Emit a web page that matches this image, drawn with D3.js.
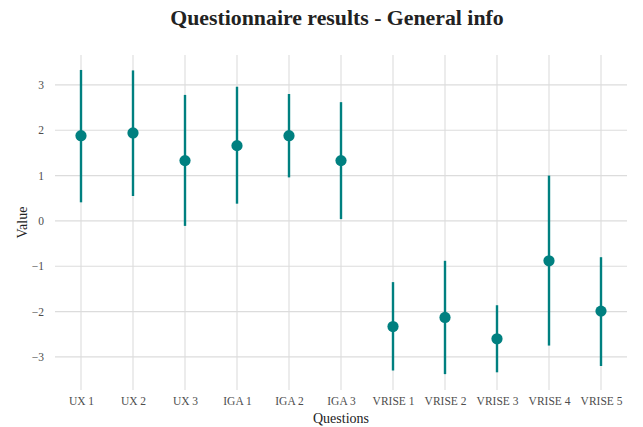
<!DOCTYPE html>
<html>
<head>
<meta charset="utf-8">
<script src="https://cdn.jsdelivr.net/npm/d3@7"></script>
<style>
  body { margin: 0; background: #fff; }
  svg { display: block; }
</style>
</head>
<body>
<svg id="chart" width="643" height="427"></svg>
<script>
const categories = ["UX 1","UX 2","UX 3","IGA 1","IGA 2","IGA 3","VRISE 1","VRISE 2","VRISE 3","VRISE 4","VRISE 5"];
const means = [1.88, 1.94, 1.33, 1.66, 1.88, 1.33, -2.33, -2.13, -2.60, -0.88, -1.99];
const lows  = [0.41, 0.55, -0.11, 0.38, 0.96, 0.04, -3.30, -3.38, -3.34, -2.75, -3.20];
const highs = [3.33, 3.32, 2.78, 2.96, 2.80, 2.62, -1.35, -0.88, -1.86, 1.00, -0.80];
const yTicks = [-3, -2, -1, 0, 1, 2, 3];

(function () {
const data = categories.map((c, i) => ({ c, m: means[i], lo: lows[i], hi: highs[i] }));

const svg = d3.select("#chart");
const pLeft = 55, pRight = 627, pTop = 55, pBottom = 390;
const serif = "'Liberation Serif', 'Times New Roman', serif";

const x = d3.scalePoint().domain(categories).range([pLeft, pRight]).padding(0.5);
const y = d3.scaleLinear().domain([-3.73, 3.66]).range([pBottom, pTop]);

const teal = "#008080";
const gridColor = "#dcdcdc";

// gridlines
svg.append("g").selectAll("line").data(yTicks).join("line")
  .attr("x1", pLeft).attr("x2", pRight)
  .attr("y1", d => y(d)).attr("y2", d => y(d))
  .attr("stroke", gridColor).attr("stroke-width", 1.1);
svg.append("g").selectAll("line").data(categories).join("line")
  .attr("x1", d => x(d)).attr("x2", d => x(d))
  .attr("y1", pTop).attr("y2", pBottom)
  .attr("stroke", gridColor).attr("stroke-width", 1.1);

// axes (text only)
const yAxis = d3.axisLeft(y).tickValues(yTicks).tickSize(0).tickPadding(0)
  .tickFormat(d => d < 0 ? "\u2212" + Math.abs(d) : String(d));
const yg = svg.append("g").attr("transform", `translate(${pLeft - 11},0)`).call(yAxis);
yg.select(".domain").remove();
yg.selectAll("text").attr("font-family", serif).attr("font-size", 11.5).attr("fill", "#4d4d4d");

const xAxis = d3.axisBottom(x).tickSize(0).tickPadding(0);
const xg = svg.append("g").attr("transform", `translate(0,${pBottom + 7})`).call(xAxis);
xg.select(".domain").remove();
xg.selectAll("text").attr("font-family", serif).attr("font-size", 11.5).attr("fill", "#4d4d4d");

// error bars
svg.append("g").selectAll("line").data(data).join("line")
  .attr("x1", d => x(d.c)).attr("x2", d => x(d.c))
  .attr("y1", d => y(d.lo)).attr("y2", d => y(d.hi))
  .attr("stroke", teal).attr("stroke-width", 2.4);

// points
svg.append("g").selectAll("circle").data(data).join("circle")
  .attr("cx", d => x(d.c)).attr("cy", d => y(d.m))
  .attr("r", 5.6).attr("fill", teal);

// titles
svg.append("text").attr("x", (pLeft + pRight) / 2 - 4).attr("y", 25)
  .attr("text-anchor", "middle").attr("font-family", serif)
  .attr("font-size", 21.8).attr("font-weight", "bold").attr("fill", "#222")
  .text("Questionnaire results - General info");

svg.append("text").attr("x", (pLeft + pRight) / 2).attr("y", 423)
  .attr("text-anchor", "middle").attr("font-family", serif)
  .attr("font-size", 14).attr("fill", "#222")
  .text("Questions");

svg.append("text")
  .attr("transform", `translate(27,${(pTop + pBottom) / 2}) rotate(-90)`)
  .attr("text-anchor", "middle").attr("font-family", serif)
  .attr("font-size", 14).attr("fill", "#222")
  .text("Value");
})();
</script>
</body>
</html>
